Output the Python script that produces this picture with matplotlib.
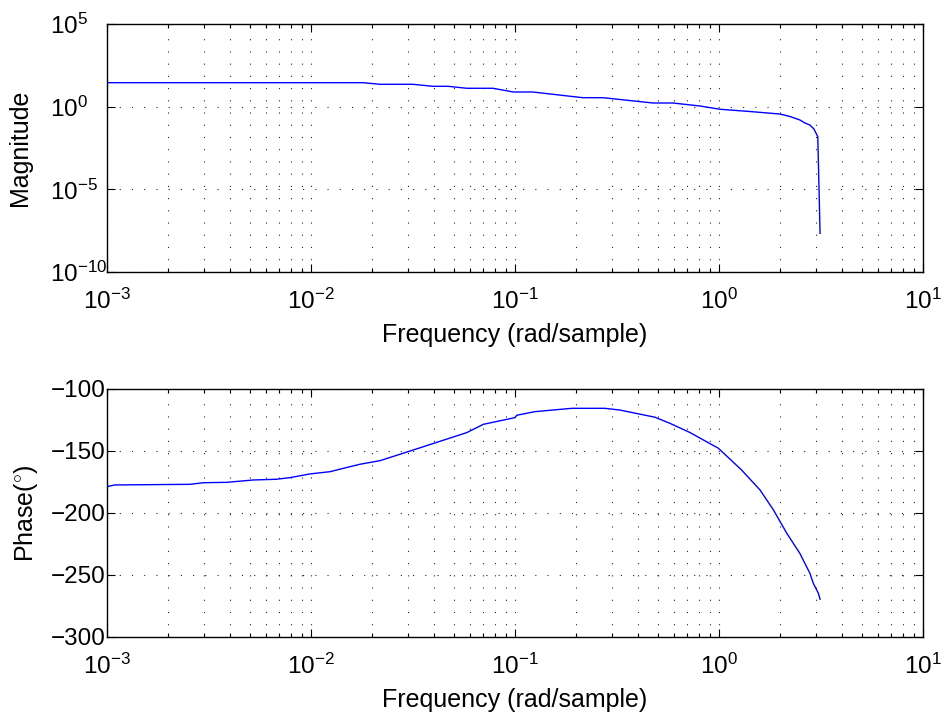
import matplotlib
matplotlib.use('Agg')
import matplotlib.pyplot as plt
import matplotlib.ticker as mticker
import numpy as np

plt.rcParams['font.family'] = ['Liberation Sans', 'DejaVu Sans']
plt.rcParams['mathtext.fontset'] = 'custom'
plt.rcParams['mathtext.rm'] = 'Liberation Sans'
plt.rcParams['mathtext.it'] = 'Liberation Sans:italic'
plt.rcParams['mathtext.bf'] = 'Liberation Sans:bold'

# Magnitude response
mag_w = [0.001, 0.018, 0.0218, 0.0316, 0.0396, 0.047, 0.058, 0.078, 0.098, 0.122,
         0.215, 0.27, 0.475, 0.595, 0.807, 1.01, 1.42, 1.99, 2.23, 2.49, 2.64, 2.79,
         2.92, 3.05, 3.13]
mag = [28.3, 28.3, 22.6, 22.6, 17.1, 17.1, 13.0, 13.0, 7.75, 7.75,
       3.5, 3.5, 1.67, 1.67, 1.1, 0.70, 0.51, 0.36, 0.255, 0.158, 0.103, 0.078,
       0.045, 0.0154, 2.2e-8]

# Phase response in degrees
ph_w = [0.001, 0.00109, 0.00255, 0.00297, 0.00386, 0.00521, 0.00679, 0.00789, 0.00989,
        0.0124, 0.0155, 0.0174, 0.0218, 0.030, 0.058, 0.070, 0.100, 0.102, 0.125,
        0.190, 0.276, 0.327, 0.486, 0.575, 0.722, 0.993, 1.29, 1.59, 1.85, 2.15,
        2.49, 2.79, 2.90, 3.07, 3.13]
phase = [-178.8, -177.4, -176.9, -175.6, -175.3, -173.4, -172.8, -171.5, -168.5,
         -166.7, -162.7, -160.7, -157.8, -150.5, -135.2, -128.5, -123.1, -121.2, -118.3,
         -115.6, -115.6, -117.0, -122.8, -127.7, -135.2, -147.8, -165.3, -181.5, -197.6, -216.4,
         -232.5, -248.6, -256.7, -264.8, -269.6]

fig = plt.figure(figsize=(9.45, 7.17), dpi=100)
ax1 = fig.add_axes([0.1132, 0.6206, 0.8635, 0.3459])
ax2 = fig.add_axes([0.1132, 0.1116, 0.8635, 0.3459])

grid_kw = dict(color='0.15', linestyle=(0, (1, 10)), linewidth=0.8)

def style(ax):
    ax.set_xscale('log')
    ax.set_xlim(1e-3, 1e1)
    ax.set_xticks([1e-3, 1e-2, 1e-1, 1e0, 1e1])
    ax.xaxis.set_minor_locator(mticker.LogLocator(base=10, subs=np.arange(2, 10), numticks=20))
    ax.xaxis.set_minor_formatter(mticker.NullFormatter())
    ax.tick_params(which='both', direction='in', top=True, right=True, labelsize=17.5)
    ax.tick_params(which='major', length=5.5, width=0.8)
    ax.tick_params(which='minor', length=3, width=0.8)
    ax.tick_params(axis='x', which='major', pad=12)
    ax.grid(True, which='major', axis='both', **grid_kw)
    ax.grid(True, which='minor', axis='x', **grid_kw)
    for s in ax.spines.values():
        s.set_linewidth(1.0)
    ax.set_xlabel('Frequency (rad/sample)', fontsize=18)
    ax.xaxis.set_label_coords(0.5, -0.205)

ax1.plot(mag_w, mag, color='#0000ff', linewidth=1.0)
style(ax1)
ax1.set_yscale('log')
ax1.set_ylim(1e-10, 1e5)
ax1.set_yticks([1e-10, 1e-5, 1e0, 1e5])
ax1.yaxis.set_minor_locator(mticker.NullLocator())
ax1.tick_params(axis='y', which='major', pad=41)
for lbl in ax1.get_yticklabels():
    lbl.set_horizontalalignment('left')
ax1.set_ylabel('Magnitude', fontsize=18)
ax1.yaxis.set_label_coords(-0.092, 0.5)

ax2.plot(ph_w, phase, color='#0000ff', linewidth=1.0)
style(ax2)
ax2.set_ylim(-300, -100)
ax2.set_yticks([-300, -250, -200, -150, -100])
ax2.tick_params(axis='y', which='major', pad=1)
ax2.set_ylabel('Phase($^{\\circ}$)', fontsize=18)
ax2.yaxis.set_label_coords(-0.082, 0.5)

fig.savefig('out.png', dpi=100)
